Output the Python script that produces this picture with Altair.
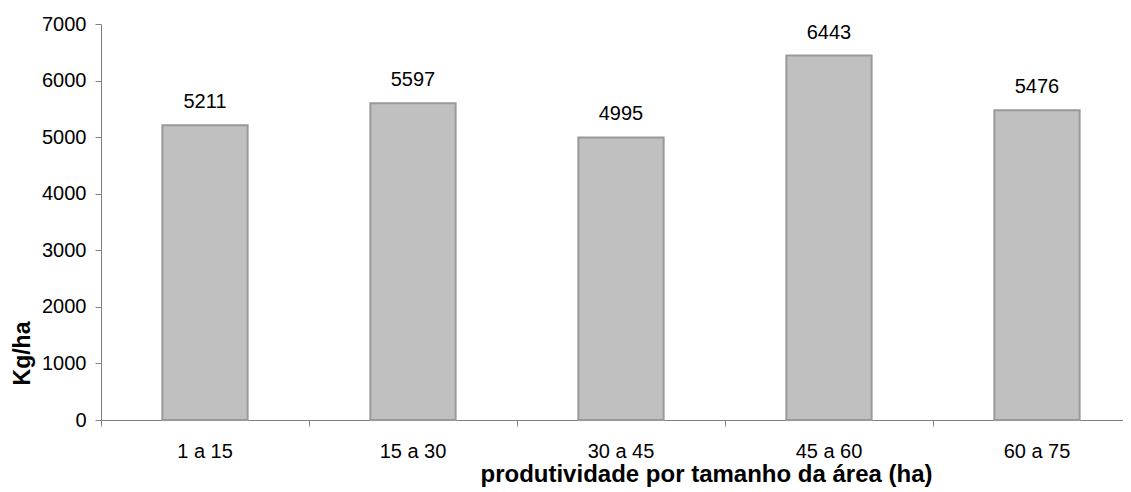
import altair as alt
import pandas as pd

categories = ["1 a 15", "15 a 30", "30 a 45", "45 a 60", "60 a 75"]
values = [5211, 5597, 4995, 6443, 5476]
y_ticks = [0, 1000, 2000, 3000, 4000, 5000, 6000, 7000]

df = pd.DataFrame({"cat": categories, "val": values})
FONT = "Liberation Sans"

x_enc = alt.X("cat:N", sort=categories,
              scale=alt.Scale(paddingInner=0, paddingOuter=0, range=[0, 1040]),
              axis=alt.Axis(title="produtividade por tamanho da área (ha)",
                            labelAngle=0, bandPosition=0, ticks=True, tickSize=6,
                            labelPadding=31, labelBaseline="alphabetic",
                            domainColor="#808080", tickColor="#808080",
                            labelFont=FONT, labelFontSize=20, labelColor="#000000",
                            titleFont=FONT, titleFontSize=24, titleFontWeight="bold",
                            titleColor="#000000", titleX=605, titleY=61,
                            titleAlign="center", titleBaseline="alphabetic"))
y_enc = alt.Y("val:Q", scale=alt.Scale(domain=[0, 7000], nice=False),
              axis=alt.Axis(title="Kg/ha", values=y_ticks, grid=False, tickSize=6,
                            labelPadding=9, format="d",
                            domainColor="#808080", tickColor="#808080",
                            labelFont=FONT, labelFontSize=20, labelColor="#000000",
                            titleFont=FONT, titleFontSize=23, titleFontWeight="bold",
                            titleColor="#000000", titleX=-79, titleY=329,
                            titleAngle=270, titleAlign="center",
                            titleBaseline="middle"))

bars = alt.Chart(df).mark_bar(
    color="#c0c0c0", stroke="#999999", strokeWidth=2,
    width=alt.RelativeBandSize(0.41)
).encode(x=x_enc, y=y_enc)

labels = alt.Chart(df).mark_text(
    dy=-17, baseline="alphabetic", font=FONT, fontSize=20, color="#000000"
).encode(x=alt.X("cat:N", sort=categories), y="val:Q", text="val:Q")

chart = alt.layer(bars, labels).properties(
    width=1022, height=396,
    padding={"left": 93, "top": 16, "right": 0, "bottom": 68},
    autosize=alt.AutoSizeParams(type="none"),
).configure_view(stroke=None)

chart.save("out.html", embed_options={"renderer": "svg", "actions": False})
